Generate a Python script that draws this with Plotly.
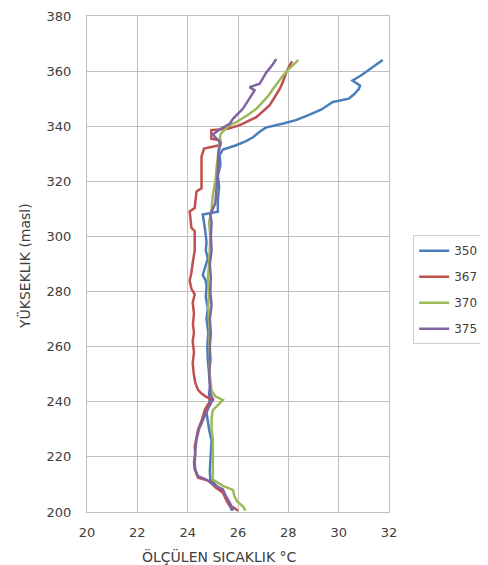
import plotly.graph_objects as go

series_names = ["350", "367", "370", "375"]
colors = ["#4A7EBB", "#C0504D", "#9BBB59", "#8064A2"]

h_350 = [200.5, 202, 204, 206, 208, 210, 211.8, 215, 220, 226, 230, 233, 236, 240, 243, 246, 250, 255, 260, 265,
         270, 274, 278, 282, 284, 286, 289, 292, 295, 298, 302, 305, 308, 309, 313, 318, 322, 326, 329.5, 331.5,
         333, 334.5, 336, 338, 339.5, 341, 342.2, 344, 346, 348.8, 350, 351.5, 353.5, 354.8, 356.6, 358.5, 360.5,
         362.5, 364]
t_350 = [25.75, 25.7, 25.6, 25.5, 25.3, 25.1, 24.9, 24.88, 24.9, 24.95, 24.85, 24.8, 24.75, 24.87, 24.85, 24.9, 24.85,
         24.8, 24.78, 24.82, 24.75, 24.8, 24.72, 24.75, 24.72, 24.6, 24.7, 24.8, 24.72, 24.75, 24.7, 24.65, 24.6, 25.2,
         25.2, 25.25, 25.2, 25.3, 25.27, 25.4, 25.9, 26.3, 26.6, 26.86, 27.1, 27.8, 28.3, 28.8, 29.3, 29.77, 30.4, 30.6,
         30.8, 30.85, 30.55, 30.9, 31.2, 31.5, 31.75]

h_367 = [200.4, 201.5, 202.2, 204, 207, 209, 211.2, 212.4, 215.4, 218, 221, 223.8, 227, 229.9, 233, 237, 239, 240.6,
         241.8, 243, 244.3, 247, 250.3, 254, 258, 262, 265, 268.3, 272, 276, 279, 281, 283.9, 287, 291.1, 294.7,
         298.3, 302, 303.1, 306, 309.1, 310.3, 314, 316.3, 317.5, 322, 326, 329, 331.9, 333.2, 334.9, 335.5, 338.6,
         339.1, 340.4, 343.3, 347.6, 350.5, 353.5, 356.5, 359.6, 362, 363.5]
t_367 = [26.0, 25.85, 25.67, 25.55, 25.4, 25.1, 24.88, 24.41, 24.28, 24.25, 24.3, 24.28, 24.35, 24.41, 24.55, 24.68,
         24.8, 25.0, 24.74, 24.55, 24.41, 24.3, 24.24, 24.2, 24.25, 24.2, 24.25, 24.21, 24.25, 24.2, 24.28, 24.15,
         24.08, 24.15, 24.21, 24.28, 24.28, 24.28, 24.15, 24.12, 24.08, 24.28, 24.32, 24.35, 24.55, 24.55, 24.55,
         24.55, 24.65, 25.3, 25.3, 24.94, 24.94, 25.6, 26.07, 26.73, 27.26, 27.45, 27.66, 27.8, 27.92, 28.05, 28.15]

h_370 = [200.5, 202, 204, 206, 208, 209.5, 211.8, 216, 220, 226.2, 230, 234, 237, 239, 240.6, 242, 244, 248, 252, 256,
         260, 265, 270, 275, 280, 285, 290, 295, 300, 305, 310, 315, 320, 325, 330, 334, 337, 339, 340.4, 341.5,
         344.5, 346.5, 348.8, 351, 353.5, 356, 358.4, 361, 363, 364.1]
t_370 = [26.3, 26.2, 25.95, 25.85, 25.8, 25.4, 25.0, 25.0, 25.02, 25.0, 24.95, 24.95, 25.0, 25.2, 25.4, 25.1, 24.95,
         24.9, 24.85, 24.9, 24.85, 24.88, 24.85, 24.82, 24.85, 24.8, 24.85, 24.88, 24.9, 24.85, 24.95, 25.0, 25.1,
         25.15, 25.2, 25.25, 25.3, 25.5, 25.67, 25.94, 26.46, 26.75, 26.99, 27.2, 27.39, 27.6, 27.79, 28.05, 28.25, 28.4]

h_375 = [200.5, 202, 203.4, 206, 208.2, 210, 211.8, 213, 215.5, 218, 222, 226.2, 230, 233.5, 236.5, 239, 241, 243,
         246, 250, 255, 260, 265, 270, 275, 280, 285, 290, 295, 300, 305, 308, 312, 318, 324, 330, 334, 337, 339,
         340.9, 342.7, 346.4, 350, 353, 354.2, 355.4, 359.6, 362, 364.4]
t_375 = [25.8, 25.75, 25.67, 25.5, 25.4, 25.0, 24.74, 24.41, 24.3, 24.28, 24.3, 24.35, 24.45, 24.6, 24.75, 24.9, 25.0,
         24.9, 24.88, 24.85, 24.9, 24.88, 24.92, 24.88, 24.95, 24.9, 24.92, 24.88, 24.95, 24.92, 24.95, 24.9, 25.1,
         25.15, 25.2, 25.22, 25.3, 25.0, 25.3, 25.67, 25.8, 26.2, 26.46, 26.66, 26.46, 26.86, 27.13, 27.35, 27.52]

x_ticks = [20, 22, 24, 26, 28, 30, 32]
y_ticks = [200, 220, 240, 260, 280, 300, 320, 340, 360, 380]
x_title = "ÖLÇÜLEN SICAKLIK °C"
y_title = "YÜKSEKLIK (masl)"

temps = [t_350, t_367, t_370, t_375]
heights = [h_350, h_367, h_370, h_375]

fig = go.Figure()
for name, col, t, h in zip(series_names, colors, temps, heights):
    fig.add_trace(go.Scatter(x=t, y=h, mode="lines", name=name, legendgroup=name,
                             line=dict(color=col, width=2.5)))

font_family = "DejaVu Sans, Verdana, sans-serif"
grid = "#BFBFBF"
txt = "#404040"
fig.update_layout(
    width=480, height=557,
    margin=dict(l=79, r=99, t=8, b=53, autoexpand=False),
    paper_bgcolor="white", plot_bgcolor="white",
    font=dict(family=font_family, size=13, color=txt),
    showlegend=True,
    legend=dict(x=1.08, y=0.558, xanchor="left", yanchor="top",
                bordercolor="#D0D0D0", borderwidth=1, tracegroupgap=7,
                font=dict(size=12, color=txt), itemwidth=30),
    xaxis=dict(range=[20, 32], tickvals=x_ticks, showgrid=True, gridcolor=grid, gridwidth=1,
               zeroline=False, showline=True, linecolor=grid, mirror=True, automargin=False,
               ticklabelstandoff=8, ticklabeloverflow="allow", tickfont=dict(size=13, color=txt)),
    yaxis=dict(range=[200, 380], tickvals=y_ticks, showgrid=True, gridcolor=grid, gridwidth=1,
               zeroline=False, showline=True, linecolor=grid, mirror=True, automargin=False,
               ticklabelstandoff=12, ticklabeloverflow="allow", tickfont=dict(size=13, color=txt)),
    annotations=[
        dict(text=x_title, xref="paper", yref="paper", x=0.44, y=-0.09, xanchor="center", yanchor="middle",
             showarrow=False, font=dict(size=14, color=txt)),
        dict(text=y_title, xref="paper", yref="paper", x=-0.205, y=0.496, xanchor="center", yanchor="middle",
             textangle=-90, showarrow=False, font=dict(size=14, color=txt)),
    ],
)
fig.write_html("out.html")
